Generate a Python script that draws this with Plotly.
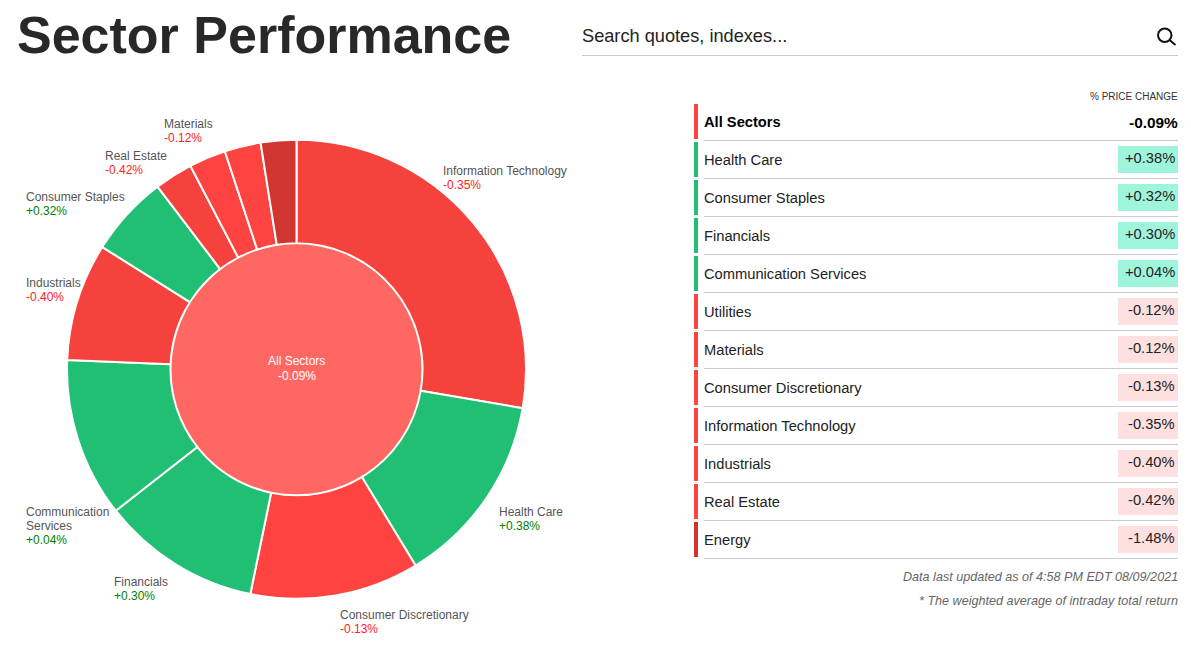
import plotly.graph_objects as go

W, H = 1191, 656

# ---- data ----
pie_sectors = ["Information Technology", "Health Care", "Consumer Discretionary", "Financials",
               "Communication Services", "Industrials", "Consumer Staples", "Real Estate",
               "Utilities", "Materials", "Energy"]
pie_weights = [27.7, 13.6, 11.9, 11.2, 11.2, 8.3, 5.7, 2.7, 2.6, 2.55, 2.5]
pie_changes = [-0.35, 0.38, -0.13, 0.30, 0.04, -0.40, 0.32, -0.42, -0.12, -0.12, -1.48]

table_sectors = ["Health Care", "Consumer Staples", "Financials", "Communication Services",
                 "Utilities", "Materials", "Consumer Discretionary", "Information Technology",
                 "Industrials", "Real Estate", "Energy"]
table_changes = [0.38, 0.32, 0.30, 0.04, -0.12, -0.12, -0.13, -0.35, -0.40, -0.42, -1.48]
all_sectors_change = -0.09

# ---- styles and positions ----
GREEN, RED, DARK_RED, OTHER_RED = "#21BF73", "#FF4340", "#D13530", "#F5423C"
CENTER = "#FF6763"
SANS = "Liberation Sans"
LABEL_FONT = "Liberation Sans"
CX, CY, R_OUT, R_IN = 296.5, 369.3, 229.5, 126


def slice_color(c):
    if c <= -1:
        return DARK_RED
    if c > 0:
        return GREEN
    if c <= -0.3:
        return OTHER_RED
    return RED


def fmt(c):
    return f"{c:+.2f}%"


def px(x):
    return x / W


def py(y):
    return 1 - y / H


def domain(r):
    return dict(x=[px(CX - r), px(CX + r)], y=[py(CY + r), py(CY - r)])


fig = go.Figure()
fig.add_trace(go.Pie(labels=pie_sectors, values=pie_weights, hole=R_IN / R_OUT, sort=False,
                     direction="clockwise", rotation=0, textinfo="none", hoverinfo="label",
                     marker=dict(colors=[slice_color(c) for c in pie_changes],
                                 line=dict(color="white", width=2)),
                     domain=domain(R_OUT), showlegend=False))
fig.add_trace(go.Pie(labels=["All Sectors"], values=[1], textinfo="none", hoverinfo="label",
                     marker=dict(colors=[CENTER], line=dict(color="white", width=0)),
                     domain=domain(R_IN - 1), showlegend=False))

shapes, notes = [], []


def text(x, y, s, size, color, anchor="left", family=SANS):
    notes.append(dict(x=px(x), y=py(y), xref="paper", yref="paper", text=s, showarrow=False,
                      xanchor=anchor, yanchor="middle", align=anchor, borderpad=0, borderwidth=0,
                      font=dict(size=size, color=color, family=family)))


def rect(x0, y0, x1, y1, color):
    shapes.append(dict(type="rect", xref="paper", yref="paper", x0=px(x0), x1=px(x1),
                       y0=py(y1), y1=py(y0), fillcolor=color, line=dict(width=0), layer="below"))


def hline(x0, x1, y, color="#CCCCCC", width=1):
    shapes.append(dict(type="line", xref="paper", yref="paper", x0=px(x0), x1=px(x1),
                       y0=py(y), y1=py(y), line=dict(color=color, width=width)))


# Header
text(17, 35, "<b>Sector Performance</b>", 52, "#282828")
text(582, 36.4, "Search quotes, indexes...", 18.2, "#222222")
hline(582, 1178, 55.5)
shapes.append(dict(type="circle", xref="paper", yref="paper", x0=px(1158), x1=px(1171.5),
                   y0=py(42), y1=py(28.5), line=dict(color="#111111", width=2)))
shapes.append(dict(type="line", xref="paper", yref="paper", x0=px(1169.5), x1=px(1175.5),
                   y0=py(40), y1=py(45), line=dict(color="#111111", width=2)))

# Donut labels
label_pos = {
    "Information Technology": (443, 171), "Health Care": (499, 512),
    "Consumer Discretionary": (340, 615), "Financials": (114, 582),
    "Communication Services": (26, 512), "Industrials": (26, 283),
    "Consumer Staples": (26, 197), "Real Estate": (105, 156), "Materials": (164, 124),
}
for name, c in zip(pie_sectors, pie_changes):
    if name not in label_pos:
        continue
    x, y = label_pos[name]
    col = "#008000" if c > 0 else "#FF2222"
    if name == "Communication Services":
        text(x, y, "Communication", 12, "#555555", family=LABEL_FONT)
        text(x, y + 14, "Services", 12, "#555555", family=LABEL_FONT)
        y += 14
    else:
        text(x, y, name, 12, "#555555", family=LABEL_FONT)
    text(x, y + 14, fmt(c), 12, col, family=LABEL_FONT)

text(CX, 361, "All Sectors", 12, "white", "center", LABEL_FONT)
text(CX, 376.4, fmt(all_sectors_change), 12, "white", "center", LABEL_FONT)

# Table
text(1178, 97, "% PRICE CHANGE", 10, "#333333", "right")
rect(694, 104, 698, 139, RED)
text(704, 122, "<b>All Sectors</b>", 14.7, "#000000")
text(1178, 122, "<b>" + fmt(all_sectors_change) + "</b>", 15.4, "#000000", "right")
hline(704, 1178, 140.5)
for i, (name, c) in enumerate(zip(table_sectors, table_changes)):
    top = 142 + 38 * i
    rect(694, top, 698, top + 35, DARK_RED if c <= -1 else (GREEN if c > 0 else RED))
    text(704, top + 17.8, name, 14.7, "#222222")
    rect(1118, top + 4, 1178, top + 31, "#9FF5DC" if c > 0 else "#FFE0E0")
    text(1174.5, top + 15.8, fmt(c), 14.7, "#222222", "right")
    hline(704, 1178, top + 36.5)

text(1178, 577, "<i>Data last updated as of 4:58 PM EDT 08/09/2021</i>", 12.6, "#666666", "right")
text(1178, 601, "<i>* The weighted average of intraday total return</i>", 12.6, "#666666", "right")

fig.update_layout(width=W, height=H, margin=dict(l=0, r=0, t=0, b=0), paper_bgcolor="white",
                  plot_bgcolor="white", shapes=shapes, annotations=notes, showlegend=False)
fig.write_html("out.html", config=dict(displayModeBar=False),
               post_script="document.body.style.margin='0';document.body.style.overflow='hidden';")
